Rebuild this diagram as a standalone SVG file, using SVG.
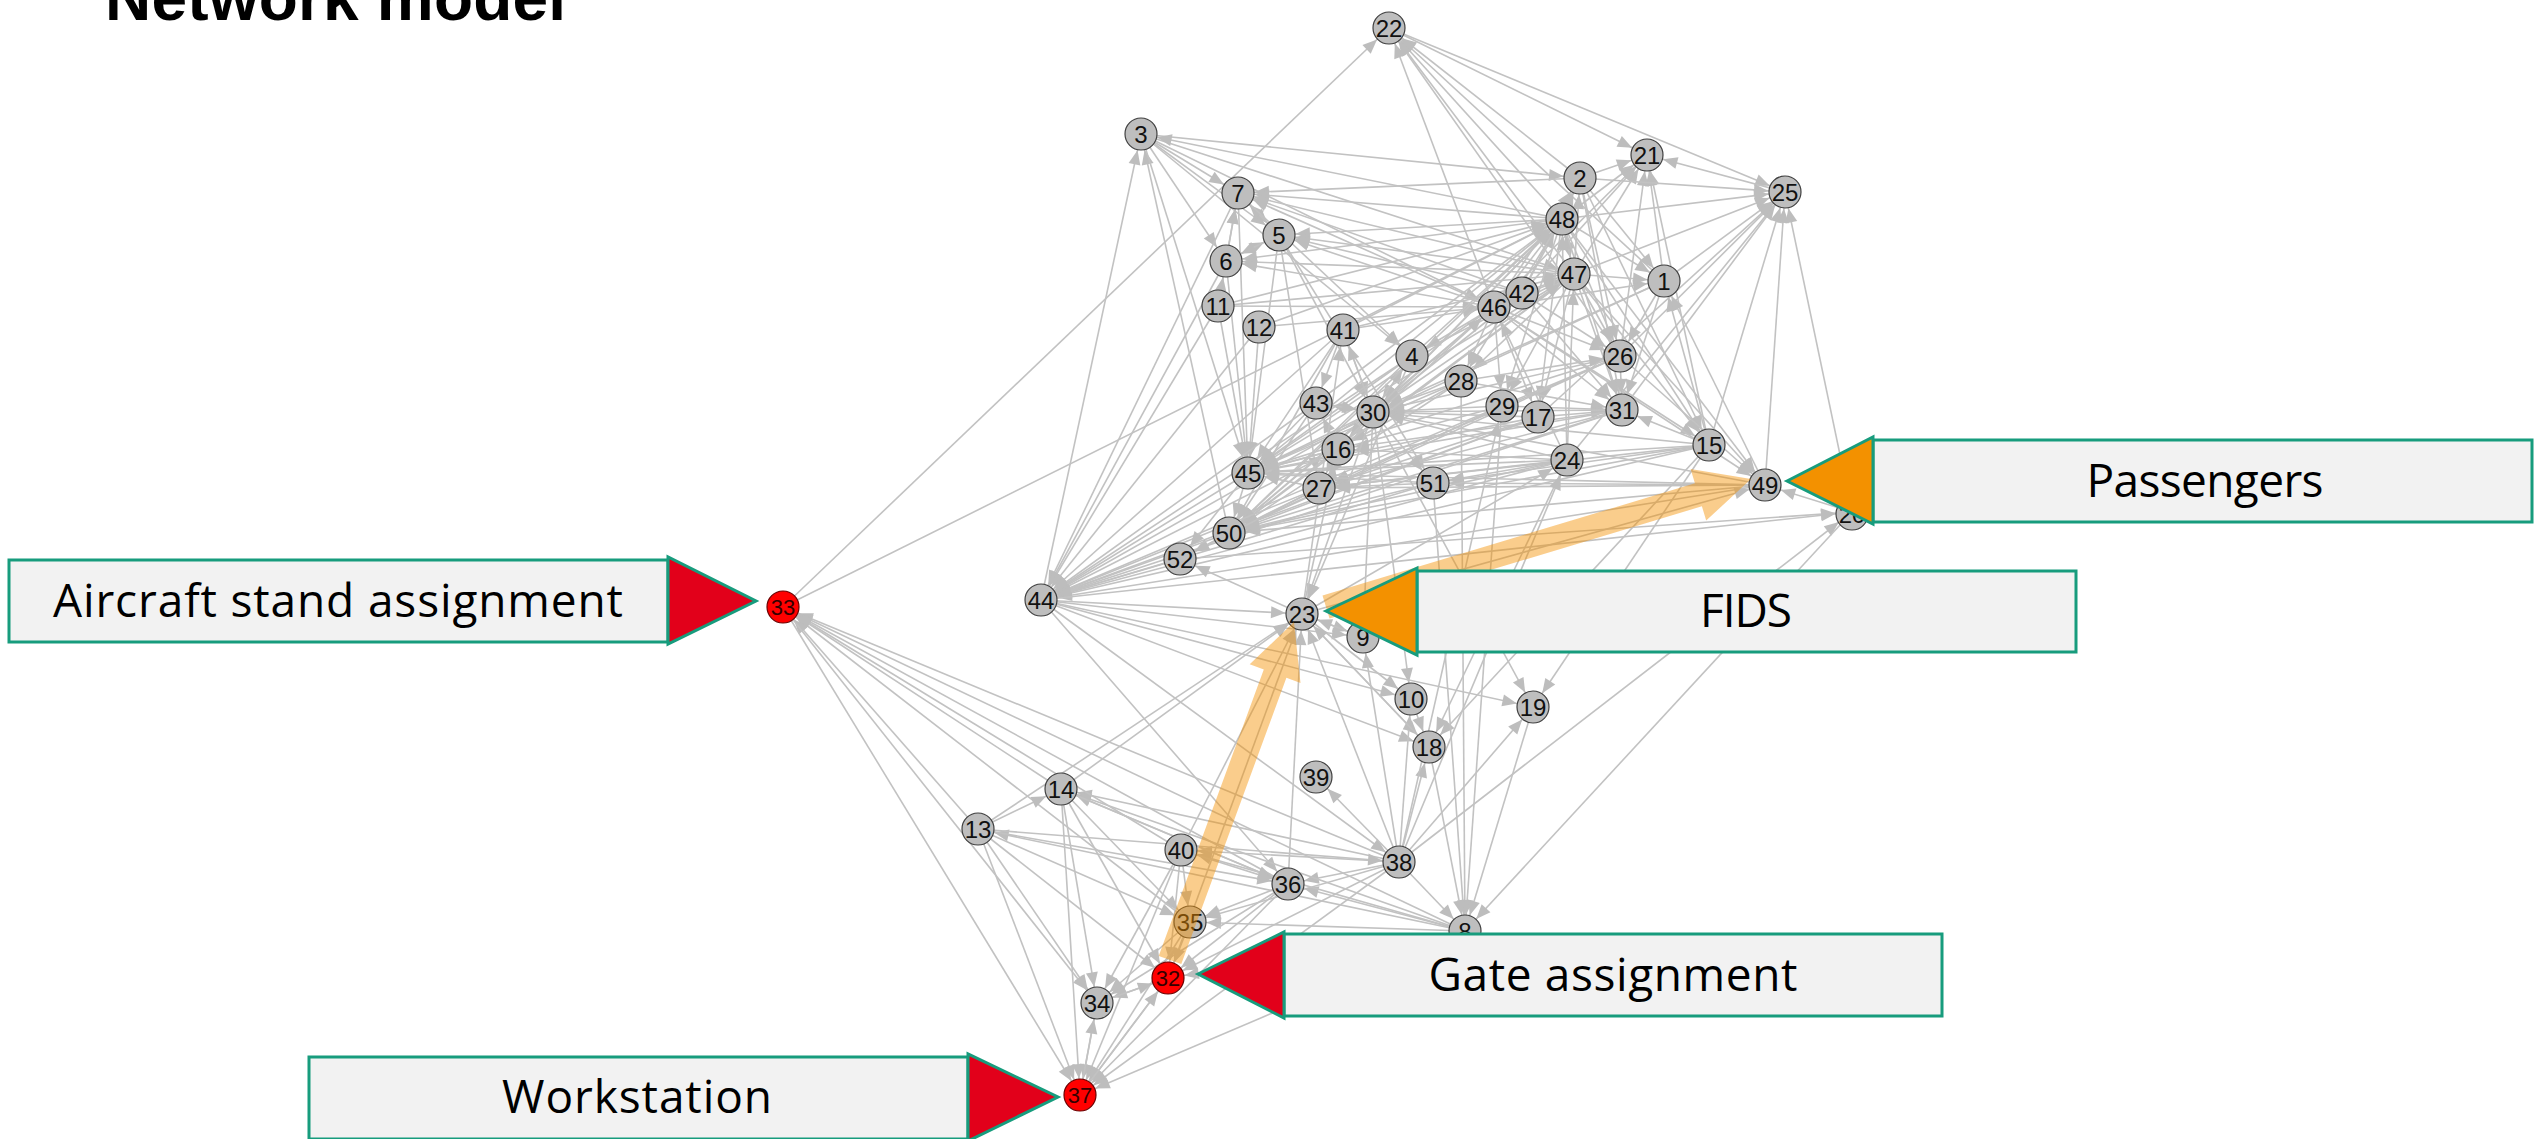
<svg xmlns="http://www.w3.org/2000/svg" width="2534" height="1139" viewBox="0 0 2534 1139">
<style>
#edges path{stroke:#c2c2c2;stroke-width:1.6;fill:none;marker-end:url(#ah)}
.node circle{fill:#bebebe;stroke:#404040;stroke-width:1.2}
.node.red circle{fill:#ff0000;stroke:#6a0000}
.node text{font-family:"Liberation Sans",Arial,sans-serif;font-size:24px;text-anchor:middle;fill:#111}
.node.red text{fill:#300;font-size:22px}
.hl{fill:#f39100;fill-opacity:0.45}
.box rect{fill:#f2f2f2;stroke:#179c7d;stroke-width:3}
.box polygon{stroke:#179c7d;stroke-width:3}
.box .r{fill:#e2001a}
.box .o{fill:#f39100}
.box text{font-family:"Open Sans","Liberation Sans",sans-serif;font-size:46px;text-anchor:middle;fill:#000}
.title{font-family:"Liberation Sans",Arial,sans-serif;font-weight:bold;font-size:64px;fill:#000}
</style>
<defs>
<marker id="ah" markerUnits="userSpaceOnUse" orient="auto" overflow="visible" refX="0" refY="0" markerWidth="1" markerHeight="1"><path d="M-31,-6 L-16.5,0 L-31,6 Z" fill="#bdbdbd"/></marker>
</defs>
<rect width="2534" height="1139" fill="#fff"/>
<text class="title" x="105" y="20" textLength="461">Network model</text>
<g id="edges">
<path d="M783 607L1389 28"/><path d="M1562 219L1389 28"/><path d="M1574 274L1389 28"/><path d="M1494 307L1389 28"/>
<path d="M1580 178L1389 28"/><path d="M1664 281L1389 28"/><path d="M1620 356L1389 28"/><path d="M1389 28L1647 155"/>
<path d="M1389 28L1785 192"/><path d="M1141 134L1580 178"/><path d="M1141 134L1238 193"/><path d="M1141 134L1226 261"/>
<path d="M1141 134L1279 235"/><path d="M1141 134L1412 356"/><path d="M1141 134L1494 307"/><path d="M1141 134L1574 274"/>
<path d="M1562 219L1141 134"/><path d="M1041 600L1141 134"/><path d="M1229 533L1141 134"/><path d="M1141 134L1248 473"/>
<path d="M1580 178L1647 155"/><path d="M1562 219L1647 155"/><path d="M1574 274L1647 155"/><path d="M1494 307L1647 155"/>
<path d="M1664 281L1647 155"/><path d="M1785 192L1647 155"/><path d="M1709 445L1647 155"/><path d="M1620 356L1647 155"/>
<path d="M1522 293L1647 155"/><path d="M1580 178L1785 192"/><path d="M1562 219L1785 192"/><path d="M1574 274L1785 192"/>
<path d="M1664 281L1785 192"/><path d="M1622 410L1785 192"/><path d="M1620 356L1785 192"/><path d="M1567 460L1785 192"/>
<path d="M1709 445L1785 192"/><path d="M1765 485L1785 192"/><path d="M1538 417L1785 192"/><path d="M1852 512L1785 192"/>
<path d="M1562 219L1580 178"/><path d="M1574 274L1580 178"/><path d="M1494 307L1580 178"/><path d="M1522 293L1580 178"/>
<path d="M1580 178L1664 281"/><path d="M1580 178L1620 356"/><path d="M1580 178L1622 410"/><path d="M1580 178L1709 445"/>
<path d="M1580 178L1238 193"/><path d="M1562 219L1238 193"/><path d="M1574 274L1238 193"/><path d="M1494 307L1238 193"/>
<path d="M1522 293L1238 193"/><path d="M1238 193L1279 235"/><path d="M1279 235L1238 193"/><path d="M1226 261L1238 193"/>
<path d="M1218 306L1238 193"/><path d="M1238 193L1412 356"/><path d="M1238 193L1248 473"/><path d="M1238 193L1041 600"/>
<path d="M1562 219L1279 235"/><path d="M1574 274L1279 235"/><path d="M1494 307L1279 235"/><path d="M1522 293L1279 235"/>
<path d="M1226 261L1279 235"/><path d="M1279 235L1373 412"/><path d="M1279 235L1248 473"/><path d="M1279 235L1319 488"/>
<path d="M1279 235L1433 483"/><path d="M1562 219L1226 261"/><path d="M1574 274L1226 261"/><path d="M1494 307L1226 261"/>
<path d="M1279 235L1226 261"/><path d="M1218 306L1226 261"/><path d="M1226 261L1248 473"/><path d="M1226 261L1041 600"/>
<path d="M1218 306L1494 307"/><path d="M1218 306L1562 219"/><path d="M1218 306L1574 274"/><path d="M1218 306L1248 473"/>
<path d="M1218 306L1041 600"/><path d="M1259 327L1494 307"/><path d="M1259 327L1248 473"/><path d="M1259 327L1562 219"/>
<path d="M1259 327L1041 600"/><path d="M1343 330L1494 307"/><path d="M1343 330L1562 219"/><path d="M1343 330L1574 274"/>
<path d="M1343 330L1316 403"/><path d="M1343 330L1373 412"/><path d="M1373 412L1343 330"/><path d="M1343 330L1248 473"/>
<path d="M1343 330L1041 600"/><path d="M1343 330L1229 533"/><path d="M1494 307L1412 356"/><path d="M1412 356L1562 219"/>
<path d="M1412 356L1574 274"/><path d="M1412 356L1373 412"/><path d="M1373 412L1412 356"/><path d="M1412 356L1248 473"/>
<path d="M1412 356L1229 533"/><path d="M1412 356L1041 600"/><path d="M1412 356L1302 614"/><path d="M1562 219L1574 274"/>
<path d="M1574 274L1562 219"/><path d="M1494 307L1562 219"/><path d="M1494 307L1574 274"/><path d="M1522 293L1562 219"/>
<path d="M1522 293L1574 274"/><path d="M1494 307L1461 381"/><path d="M1494 307L1502 406"/><path d="M1494 307L1538 417"/>
<path d="M1494 307L1620 356"/><path d="M1494 307L1622 410"/><path d="M1494 307L1373 412"/><path d="M1494 307L1248 473"/>
<path d="M1494 307L1229 533"/><path d="M1494 307L1664 281"/><path d="M1494 307L1709 445"/><path d="M1494 307L1765 485"/>
<path d="M1562 219L1664 281"/><path d="M1574 274L1664 281"/><path d="M1562 219L1620 356"/><path d="M1574 274L1620 356"/>
<path d="M1562 219L1622 410"/><path d="M1574 274L1622 410"/><path d="M1522 293L1622 410"/><path d="M1522 293L1620 356"/>
<path d="M1562 219L1709 445"/><path d="M1574 274L1709 445"/><path d="M1562 219L1765 485"/><path d="M1574 274L1765 485"/>
<path d="M1620 356L1765 485"/><path d="M1562 219L1538 417"/><path d="M1574 274L1538 417"/><path d="M1562 219L1502 406"/>
<path d="M1574 274L1502 406"/><path d="M1562 219L1461 381"/><path d="M1574 274L1461 381"/><path d="M1562 219L1373 412"/>
<path d="M1574 274L1373 412"/><path d="M1522 293L1373 412"/><path d="M1562 219L1248 473"/><path d="M1574 274L1248 473"/>
<path d="M1562 219L1229 533"/><path d="M1574 274L1229 533"/><path d="M1664 281L1620 356"/><path d="M1664 281L1622 410"/>
<path d="M1664 281L1373 412"/><path d="M1664 281L1248 473"/><path d="M1709 445L1664 281"/><path d="M1765 485L1664 281"/>
<path d="M1620 356L1622 410"/><path d="M1620 356L1373 412"/><path d="M1620 356L1248 473"/><path d="M1620 356L1229 533"/>
<path d="M1620 356L1041 600"/><path d="M1620 356L1319 488"/><path d="M1461 381L1373 412"/><path d="M1461 381L1248 473"/>
<path d="M1461 381L1622 410"/><path d="M1461 381L1620 356"/><path d="M1461 381L1338 449"/><path d="M1461 381L1229 533"/>
<path d="M1461 381L1465 931"/><path d="M1502 406L1373 412"/><path d="M1502 406L1248 473"/><path d="M1502 406L1229 533"/>
<path d="M1502 406L1622 410"/><path d="M1502 406L1465 931"/><path d="M1538 417L1373 412"/><path d="M1538 417L1248 473"/>
<path d="M1538 417L1229 533"/><path d="M1538 417L1041 600"/><path d="M1538 417L1622 410"/><path d="M1538 417L1319 488"/>
<path d="M1622 410L1248 473"/><path d="M1622 410L1373 412"/><path d="M1622 410L1319 488"/><path d="M1622 410L1229 533"/>
<path d="M1622 410L1041 600"/><path d="M1622 410L1338 449"/><path d="M1709 445L1622 410"/><path d="M1709 445L1429 747"/>
<path d="M1709 445L1533 707"/><path d="M1709 445L1433 483"/><path d="M1709 445L1319 488"/><path d="M1709 445L1248 473"/>
<path d="M1709 445L1229 533"/><path d="M1709 445L1373 412"/><path d="M1709 445L1041 600"/><path d="M1765 485L1433 483"/>
<path d="M1765 485L1248 473"/><path d="M1765 485L1229 533"/><path d="M1765 485L1041 600"/><path d="M1765 485L1373 412"/>
<path d="M1765 485L1319 488"/><path d="M1852 512L1765 485"/><path d="M1567 460L1433 483"/><path d="M1567 460L1319 488"/>
<path d="M1567 460L1248 473"/><path d="M1567 460L1229 533"/><path d="M1567 460L1373 412"/><path d="M1567 460L1338 449"/>
<path d="M1567 460L1562 219"/><path d="M1567 460L1574 274"/><path d="M1567 460L1494 307"/><path d="M1567 460L1041 600"/>
<path d="M1567 460L1429 747"/><path d="M1399 862L1567 460"/><path d="M1373 412L1316 403"/><path d="M1316 403L1373 412"/>
<path d="M1373 412L1248 473"/><path d="M1373 412L1229 533"/><path d="M1373 412L1338 449"/><path d="M1373 412L1319 488"/>
<path d="M1373 412L1433 483"/><path d="M1373 412L1302 614"/><path d="M1373 412L1411 699"/><path d="M1373 412L1533 707"/>
<path d="M1373 412L1041 600"/><path d="M1373 412L1363 637"/><path d="M1338 449L1316 403"/><path d="M1316 403L1248 473"/>
<path d="M1316 403L1229 533"/><path d="M1316 403L1041 600"/><path d="M1316 403L1562 219"/><path d="M1338 449L1248 473"/>
<path d="M1338 449L1319 488"/><path d="M1338 449L1229 533"/><path d="M1338 449L1041 600"/><path d="M1338 449L1562 219"/>
<path d="M1338 449L1494 307"/><path d="M1338 449L1574 274"/><path d="M1319 488L1248 473"/><path d="M1319 488L1229 533"/>
<path d="M1319 488L1041 600"/><path d="M1319 488L1180 559"/><path d="M1433 483L1319 488"/><path d="M1433 483L1248 473"/>
<path d="M1433 483L1229 533"/><path d="M1433 483L1041 600"/><path d="M1433 483L1465 931"/><path d="M1248 473L1229 533"/>
<path d="M1248 473L1180 559"/><path d="M1248 473L1041 600"/><path d="M1229 533L1180 559"/><path d="M1229 533L1041 600"/>
<path d="M1180 559L1041 600"/><path d="M1302 614L1180 559"/><path d="M1180 559L1852 512"/><path d="M1041 600L1852 512"/>
<path d="M1041 600L1302 614"/><path d="M1041 600L1363 637"/><path d="M1041 600L1411 699"/><path d="M1041 600L1429 747"/>
<path d="M1041 600L1533 707"/><path d="M1041 600L1288 884"/><path d="M1041 600L1399 862"/><path d="M1061 789L1302 614"/>
<path d="M978 829L1302 614"/><path d="M1399 862L1302 614"/><path d="M1288 884L1302 614"/><path d="M1181 850L1302 614"/>
<path d="M1168 978L1302 614"/><path d="M1302 614L1363 637"/><path d="M1363 637L1302 614"/><path d="M1302 614L1411 699"/>
<path d="M1302 614L1429 747"/><path d="M1302 614L1567 460"/><path d="M1302 614L1338 449"/><path d="M1302 614L1765 485"/>
<path d="M1302 614L1343 330"/><path d="M1399 862L1363 637"/><path d="M1399 862L1411 699"/><path d="M1399 862L1429 747"/>
<path d="M1399 862L1533 707"/><path d="M1399 862L1316 777"/><path d="M1399 862L1061 789"/><path d="M1399 862L783 607"/>
<path d="M1399 862L1852 512"/><path d="M1399 862L1181 850"/><path d="M1399 862L1288 884"/><path d="M1399 862L1190 922"/>
<path d="M1399 862L1168 978"/><path d="M1399 862L1080 1095"/><path d="M1399 862L1465 931"/><path d="M1399 862L1502 406"/>
<path d="M1411 699L1429 747"/><path d="M1429 747L1465 931"/><path d="M1533 707L1465 931"/><path d="M1852 512L1465 931"/>
<path d="M1429 747L1302 614"/><path d="M1465 931L1288 884"/><path d="M1465 931L1190 922"/><path d="M1465 931L1168 978"/>
<path d="M1465 931L1080 1095"/><path d="M1465 931L1061 789"/><path d="M1465 931L783 607"/><path d="M1465 931L978 829"/>
<path d="M1465 931L1181 850"/><path d="M1288 884L1190 922"/><path d="M1288 884L1168 978"/><path d="M1288 884L1097 1003"/>
<path d="M1288 884L1080 1095"/><path d="M1288 884L783 607"/><path d="M1288 884L1061 789"/><path d="M1061 789L1288 884"/>
<path d="M978 829L1288 884"/><path d="M1181 850L1288 884"/><path d="M1181 850L1190 922"/><path d="M1181 850L1168 978"/>
<path d="M1181 850L1097 1003"/><path d="M1181 850L783 607"/><path d="M1181 850L1080 1095"/><path d="M1061 789L1190 922"/>
<path d="M1190 922L1168 978"/><path d="M1190 922L1097 1003"/><path d="M1190 922L1080 1095"/><path d="M1190 922L783 607"/>
<path d="M1061 789L783 607"/><path d="M978 829L783 607"/><path d="M978 829L1061 789"/><path d="M1061 789L1097 1003"/>
<path d="M1061 789L1168 978"/><path d="M1061 789L1080 1095"/><path d="M978 829L1190 922"/><path d="M978 829L1168 978"/>
<path d="M978 829L1097 1003"/><path d="M978 829L1080 1095"/><path d="M978 829L1399 862"/><path d="M783 607L1080 1095"/>
<path d="M783 607L1097 1003"/><path d="M783 607L1562 219"/><path d="M1168 978L1097 1003"/><path d="M1097 1003L1168 978"/>
<path d="M1168 978L1080 1095"/><path d="M1080 1095L1168 978"/><path d="M1097 1003L1080 1095"/><path d="M1080 1095L1097 1003"/>
</g>
<g id="nodes">
<g id="n1" class="node"><circle cx="1664" cy="281" r="16"/><text x="1664" y="290">1</text></g>
<g id="n2" class="node"><circle cx="1580" cy="178" r="16"/><text x="1580" y="187">2</text></g>
<g id="n3" class="node"><circle cx="1141" cy="134" r="16"/><text x="1141" y="143">3</text></g>
<g id="n4" class="node"><circle cx="1412" cy="356" r="16"/><text x="1412" y="365">4</text></g>
<g id="n5" class="node"><circle cx="1279" cy="235" r="16"/><text x="1279" y="244">5</text></g>
<g id="n6" class="node"><circle cx="1226" cy="261" r="16"/><text x="1226" y="270">6</text></g>
<g id="n7" class="node"><circle cx="1238" cy="193" r="16"/><text x="1238" y="202">7</text></g>
<g id="n8" class="node"><circle cx="1465" cy="931" r="16"/><text x="1465" y="940">8</text></g>
<g id="n9" class="node"><circle cx="1363" cy="637" r="16"/><text x="1363" y="646">9</text></g>
<g id="n10" class="node"><circle cx="1411" cy="699" r="16"/><text x="1411" y="708">10</text></g>
<g id="n11" class="node"><circle cx="1218" cy="306" r="16"/><text x="1218" y="315">11</text></g>
<g id="n12" class="node"><circle cx="1259" cy="327" r="16"/><text x="1259" y="336">12</text></g>
<g id="n13" class="node"><circle cx="978" cy="829" r="16"/><text x="978" y="838">13</text></g>
<g id="n14" class="node"><circle cx="1061" cy="789" r="16"/><text x="1061" y="798">14</text></g>
<g id="n15" class="node"><circle cx="1709" cy="445" r="16"/><text x="1709" y="454">15</text></g>
<g id="n16" class="node"><circle cx="1338" cy="449" r="16"/><text x="1338" y="458">16</text></g>
<g id="n17" class="node"><circle cx="1538" cy="417" r="16"/><text x="1538" y="426">17</text></g>
<g id="n18" class="node"><circle cx="1429" cy="747" r="16"/><text x="1429" y="756">18</text></g>
<g id="n19" class="node"><circle cx="1533" cy="707" r="16"/><text x="1533" y="716">19</text></g>
<g id="n20" class="node"><circle cx="1852" cy="514" r="16"/><text x="1852" y="523">20</text></g>
<g id="n21" class="node"><circle cx="1647" cy="155" r="16"/><text x="1647" y="164">21</text></g>
<g id="n22" class="node"><circle cx="1389" cy="28" r="16"/><text x="1389" y="37">22</text></g>
<g id="n23" class="node"><circle cx="1302" cy="614" r="16"/><text x="1302" y="623">23</text></g>
<g id="n24" class="node"><circle cx="1567" cy="460" r="16"/><text x="1567" y="469">24</text></g>
<g id="n25" class="node"><circle cx="1785" cy="192" r="16"/><text x="1785" y="201">25</text></g>
<g id="n26" class="node"><circle cx="1620" cy="356" r="16"/><text x="1620" y="365">26</text></g>
<g id="n27" class="node"><circle cx="1319" cy="488" r="16"/><text x="1319" y="497">27</text></g>
<g id="n28" class="node"><circle cx="1461" cy="381" r="16"/><text x="1461" y="390">28</text></g>
<g id="n29" class="node"><circle cx="1502" cy="406" r="16"/><text x="1502" y="415">29</text></g>
<g id="n30" class="node"><circle cx="1373" cy="412" r="16"/><text x="1373" y="421">30</text></g>
<g id="n31" class="node"><circle cx="1622" cy="410" r="16"/><text x="1622" y="419">31</text></g>
<g id="n32" class="node red"><circle cx="1168" cy="978" r="16"/><text x="1168" y="986">32</text></g>
<g id="n33" class="node red"><circle cx="783" cy="607" r="16"/><text x="783" y="615">33</text></g>
<g id="n34" class="node"><circle cx="1097" cy="1003" r="16"/><text x="1097" y="1012">34</text></g>
<g id="n35" class="node"><circle cx="1190" cy="922" r="16"/><text x="1190" y="931">35</text></g>
<g id="n36" class="node"><circle cx="1288" cy="884" r="16"/><text x="1288" y="893">36</text></g>
<g id="n37" class="node red"><circle cx="1080" cy="1095" r="16"/><text x="1080" y="1103">37</text></g>
<g id="n38" class="node"><circle cx="1399" cy="862" r="16"/><text x="1399" y="871">38</text></g>
<g id="n39" class="node"><circle cx="1316" cy="777" r="16"/><text x="1316" y="786">39</text></g>
<g id="n40" class="node"><circle cx="1181" cy="850" r="16"/><text x="1181" y="859">40</text></g>
<g id="n41" class="node"><circle cx="1343" cy="330" r="16"/><text x="1343" y="339">41</text></g>
<g id="n42" class="node"><circle cx="1522" cy="293" r="16"/><text x="1522" y="302">42</text></g>
<g id="n43" class="node"><circle cx="1316" cy="403" r="16"/><text x="1316" y="412">43</text></g>
<g id="n44" class="node"><circle cx="1041" cy="600" r="16"/><text x="1041" y="609">44</text></g>
<g id="n45" class="node"><circle cx="1248" cy="473" r="16"/><text x="1248" y="482">45</text></g>
<g id="n46" class="node"><circle cx="1494" cy="307" r="16"/><text x="1494" y="316">46</text></g>
<g id="n47" class="node"><circle cx="1574" cy="274" r="16"/><text x="1574" y="283">47</text></g>
<g id="n48" class="node"><circle cx="1562" cy="219" r="16"/><text x="1562" y="228">48</text></g>
<g id="n49" class="node"><circle cx="1765" cy="485" r="16"/><text x="1765" y="494">49</text></g>
<g id="n50" class="node"><circle cx="1229" cy="533" r="16"/><text x="1229" y="542">50</text></g>
<g id="n51" class="node"><circle cx="1433" cy="483" r="16"/><text x="1433" y="492">51</text></g>
<g id="n52" class="node"><circle cx="1180" cy="559" r="16"/><text x="1180" y="568">52</text></g>
</g>
<g id="highlights">
<polygon class="hl" points="1158.7,955.9 1263.8,669.5 1249.7,664.3 1294,622 1300.5,682.9 1286.4,677.7 1181.3,964.1"/>
<polygon class="hl" points="1322.5,595.5 1694.9,483.3 1690.6,469 1751,479 1706.2,520.6 1701.9,506.3 1329.5,618.5"/>
</g>
<g id="label-passengers" class="box"><rect x="1873" y="440" width="659" height="82"/><polygon class="o" points="1787,481 1873,437 1873,524"/><text x="2205" y="497" textLength="237">Passengers</text></g>
<g id="label-fids" class="box"><rect x="1417" y="571" width="659" height="81"/><polygon class="o" points="1326,611 1417,568 1417,655"/><text x="1746" y="627" textLength="92">FIDS</text></g>
<g id="label-gate" class="box"><rect x="1284" y="934" width="658" height="82"/><polygon class="r" points="1198,974 1284,932 1284,1018"/><text x="1613" y="991" textLength="369">Gate assignment</text></g>
<g id="label-aircraft" class="box"><rect x="9" y="560" width="659" height="82"/><polygon class="r" points="668,557 668,644 756,601"/><text x="338" y="617" textLength="570">Aircraft stand assignment</text></g>
<g id="label-workstation" class="box"><rect x="309" y="1057" width="659" height="82"/><polygon class="r" points="968,1054 968,1141 1058,1097"/><text x="637" y="1113" textLength="270">Workstation</text></g>
</svg>
